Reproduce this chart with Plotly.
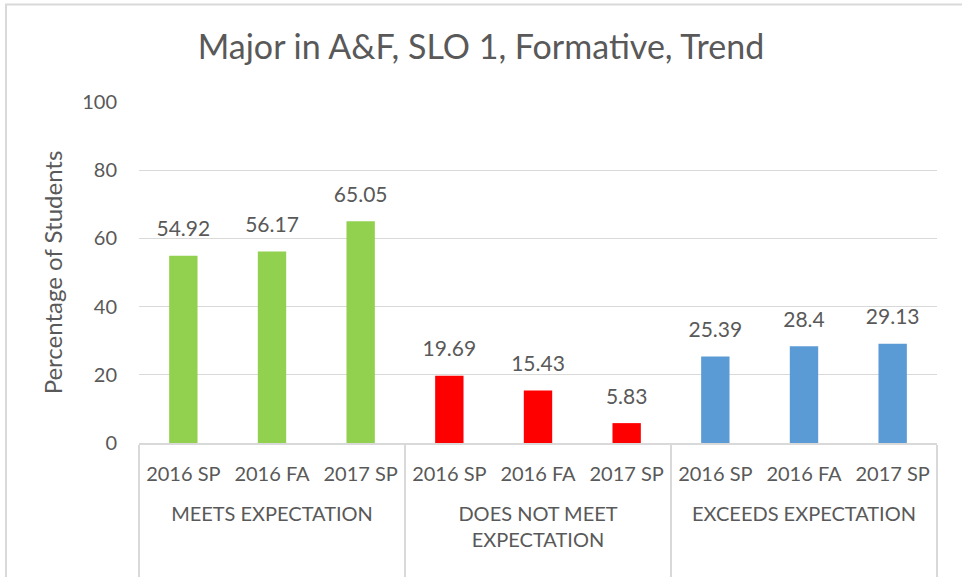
import plotly.graph_objects as go

groups = ["<br>MEETS EXPECTATION"] * 3 + ["<br>DOES NOT MEET<br>EXPECTATION<br>&nbsp;"] * 3 + ["<br>EXCEEDS EXPECTATION"] * 3
periods = ["2016 SP", "2016 FA", "2017 SP"] * 3
values = [54.92, 56.17, 65.05, 19.69, 15.43, 5.83, 25.39, 28.4, 29.13]
colors = ["#92D050"] * 3 + ["#FF0000"] * 3 + ["#5B9BD5"] * 3

FONT = "Lato, Open Sans, sans-serif"
TXT = "#595959"

fig = go.Figure()
fig.add_trace(
    go.Bar(
        x=[groups, periods],
        y=values,
        marker=dict(color=colors, line=dict(width=0)),
        hoverinfo="skip",
    )
)
# data labels
fig.add_trace(
    go.Scatter(
        x=[groups, periods],
        y=values,
        mode="markers+text",
        marker=dict(size=21, opacity=0),
        text=[str(v) for v in values],
        textposition="top center",
        textfont=dict(size=21, color=TXT, family=FONT),
        cliponaxis=False,
        hoverinfo="skip",
    )
)

fig.update_layout(
    width=962,
    height=577,
    paper_bgcolor="white",
    plot_bgcolor="white",
    margin=dict(l=139, r=25, t=102, b=134),
    bargap=0.68,
    showlegend=False,
    font=dict(family=FONT, color=TXT, size=20),
    title=dict(
        text="Major in A&F, SLO 1, Formative, Trend",
        x=0.5,
        xanchor="center",
        y=0.918,
        yanchor="middle",
        font=dict(size=34, color=TXT, family=FONT),
    ),
    shapes=[
        dict(type="rect", xref="paper", yref="paper", x0=-0.1667, x1=1.1, y0=-0.6, y1=1.286,
             line=dict(color="#D9D9D9", width=2), fillcolor="rgba(0,0,0,0)", layer="below"),
    ],
)

fig.update_yaxes(
    range=[0, 100],
    dtick=20,
    showgrid=True,
    gridcolor="#D9D9D9",
    gridwidth=1,
    zeroline=False,
    showline=False,
    ticks="",
    automargin=False,
    ticklabelstandoff=21,
    tickfont=dict(size=20, color=TXT),
    title=dict(text="Percentage of Students", font=dict(size=24, color=TXT), standoff=12),
)

fig.update_xaxes(
    type="multicategory",
    range=[-0.5, len(values) - 0.5],
    automargin=False,
    showline=True,
    linecolor="#D9D9D9",
    linewidth=1.5,
    ticks="",
    ticklabelstandoff=12,
    showdividers=True,
    dividercolor="#D9D9D9",
    dividerwidth=1.5,
    tickfont=dict(size=20, color=TXT),
)

fig.write_html(
    "out.html",
    config={"displayModeBar": False},
    post_script="document.body.style.margin='0';",
)
